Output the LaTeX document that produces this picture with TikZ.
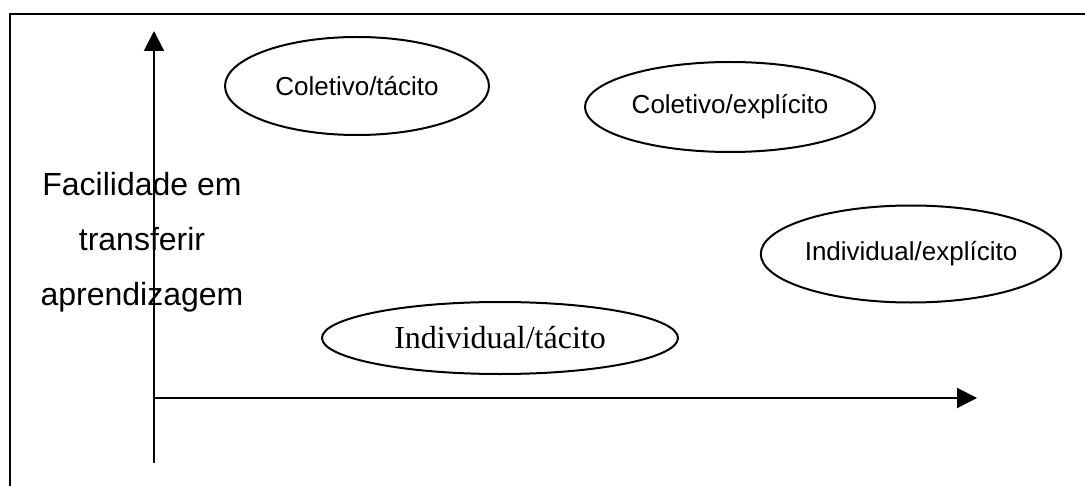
\documentclass[tikz,border=0pt]{standalone}
\usepackage{fontspec}
\setmainfont{Liberation Sans}
\newfontfamily\timesfont{Liberation Serif}
\usetikzlibrary{arrows.meta,shapes.geometric}
\tikzset{
  apzone/.style={ellipse,draw,line width=1pt,inner sep=0pt,
                 font=\fontsize{13}{15}\selectfont},
  apaxis/.style={-{Triangle[length=10pt,width=10pt]},line width=1pt},
  aplabel/.style={align=center,font=\fontsize{16}{27.5}\selectfont}
}

\begin{document}
\begin{tikzpicture}[x=0.5pt,y=-0.5pt]
    \useasboundingbox (0,0) rectangle (1085,486);
    % frame (only top and left edges visible)
    \draw[line width=1.1pt] (10,486) -- (10,14) -- (1085,14);

    \coordinate (origin) at (154,398);
    \coordinate (ytop) at (154,31);
    \coordinate (ybot) at (154,463);
    \coordinate (xend) at (977,398);

    \draw[apaxis] (ybot) -- (ytop);
    \draw[apaxis] (origin) -- (xend);

    \node[aplabel] (ylabel) at (142,242)
      {Facilidade em\\transferir\\aprendizagem};

    \node[apzone,minimum width=132pt,minimum height=49pt] (coltac) at (357,86)
      {Coletivo/tácito};
    \node[apzone,minimum width=145pt,minimum height=45pt] (colexp) at (730,107)
      {Coletivo/explícito};
    \node[apzone,minimum width=134pt,minimum height=48.5pt] (indexp) at (911,254)
      {Individual/explícito};
    \node[apzone,minimum width=178pt,minimum height=36pt,
      font=\timesfont\fontsize{16}{18}\selectfont] (indtac) at (500,338)
      {Individual/tácito};
\end{tikzpicture}
\end{document}
